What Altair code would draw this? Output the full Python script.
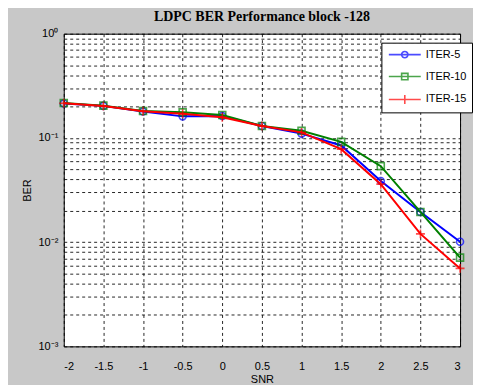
import altair as alt
import pandas as pd

snr = [-2, -1.5, -1, -0.5, 0, 0.5, 1, 1.5, 2, 2.5, 3]
iter5 = [0.214, 0.203, 0.179, 0.161, 0.162, 0.130, 0.110, 0.0846, 0.0386, 0.0195, 0.0101]
iter10 = [0.216, 0.204, 0.181, 0.176, 0.166, 0.130, 0.117, 0.0916, 0.0536, 0.0195, 0.0071]
iter15 = [0.215, 0.202, 0.180, 0.171, 0.158, 0.130, 0.113, 0.078, 0.036, 0.012, 0.0056]

series = ["ITER-5", "ITER-10", "ITER-15"]
colors = ["#0000ff", "#008000", "#ff0000"]
marker_shapes = ["circle", "square", "M-1,0H1M0,-1V1"]
marker_sizes = [49, 49, 81]
legend_paths = [
    "M-2.67,0H2.67M-0.53,0A0.53,0.53 0 1,1 0.53,0A0.53,0.53 0 1,1 -0.53,0",
    "M-2.67,0H2.67M-0.53,-0.53H0.53V0.53H-0.53Z",
    "M-2.67,0H2.67M0,-0.75V0.75",
]
y_ticks = [m * 10.0 ** e for e in (-3, -2, -1) for m in range(1, 10)] + [1.0]
x_ticks = [-2, -1.5, -1, -0.5, 0, 0.5, 1, 1.5, 2, 2.5, 3]

rows = []
for name, vals in zip(series, [iter5, iter10, iter15]):
    for s, v in zip(snr, vals):
        rows.append({"SNR": s, "BER": v, "series": name})
df = pd.DataFrame(rows)

xenc = alt.X(
    "SNR:Q",
    scale=alt.Scale(domain=[-2, 3], nice=False),
    axis=alt.Axis(
        values=x_ticks,
        labelExpr="'' + datum.value",
        title="SNR",
        grid=True,
        ticks=False,
        labelPadding=14,
        titlePadding=2,
    ),
)
yenc = alt.Y(
    "BER:Q",
    scale=alt.Scale(type="log", domain=[0.001, 1], nice=False),
    axis=alt.Axis(
        values=y_ticks,
        labelExpr="datum.value == 1 ? '10⁰' : datum.value == 0.1 ? '10⁻¹' : datum.value == 0.01 ? '10⁻²' : datum.value == 0.001 ? '10⁻³' : ''",
        title="BER",
        grid=True,
        ticks=False,
        labelPadding=6,
        titlePadding=6,
    ),
)
legend_spec = alt.Legend(
    title=None,
    orient="none",
    legendX=319,
    legendY=9,
    fillColor="white",
    strokeColor="black",
    padding=5,
    cornerRadius=0,
    labelFont="Liberation Sans",
    labelFontSize=11,
    labelColor="black",
    symbolSize=144,
    symbolStrokeWidth=1.6,
    symbolOffset=11.5,
    labelOffset=14,
    rowPadding=8,
)
color_enc = alt.Color(
    "series:N",
    scale=alt.Scale(domain=series, range=colors),
    legend=legend_spec,
)

layers = []
for name, col, shp, sz in zip(series, colors, marker_shapes, marker_sizes):
    base = alt.Chart(df).transform_filter(alt.datum.series == name)
    layers.append(base.mark_line(strokeWidth=2).encode(x=xenc, y=yenc, color=color_enc))
    layers.append(
        base.mark_point(shape=shp, size=sz, filled=False, strokeWidth=1.6).encode(
            x=xenc, y=yenc, color=color_enc
        )
    )

legend_layer = (
    alt.Chart(df)
    .transform_filter("false")
    .mark_point(filled=False, strokeWidth=1.6)
    .encode(
        x=xenc,
        y=yenc,
        color=color_enc,
        shape=alt.Shape(
            "series:N",
            scale=alt.Scale(domain=series, range=legend_paths),
            legend=legend_spec,
        ),
    )
)
layers.append(legend_layer)

chart = (
    alt.layer(*layers)
    .properties(
        width=398,
        height=314,
        title=alt.TitleParams(
            "LDPC BER Performance block -128",
            font="Liberation Serif",
            fontSize=14,
            fontWeight="bold",
            color="black",
            anchor="middle",
            offset=4,
        ),
        background="#c8c8c8",
        padding={"left": 56, "top": 25, "right": 13, "bottom": 40},
        autosize=alt.AutoSizeParams(type="none"),
    )
    .configure_view(fill="white", stroke="black", strokeWidth=1)
    .configure_axis(
        gridColor="black",
        gridDash=[3, 3],
        gridWidth=1,
        gridOpacity=0.85,
        domain=False,
        labelFont="Liberation Sans",
        labelFontSize=11,
        labelColor="black",
        titleFont="Liberation Sans",
        titleFontSize=11,
        titleFontWeight="normal",
        titleColor="black",
    )
)

chart.save("out.html", embed_options={"renderer": "svg", "actions": False})
